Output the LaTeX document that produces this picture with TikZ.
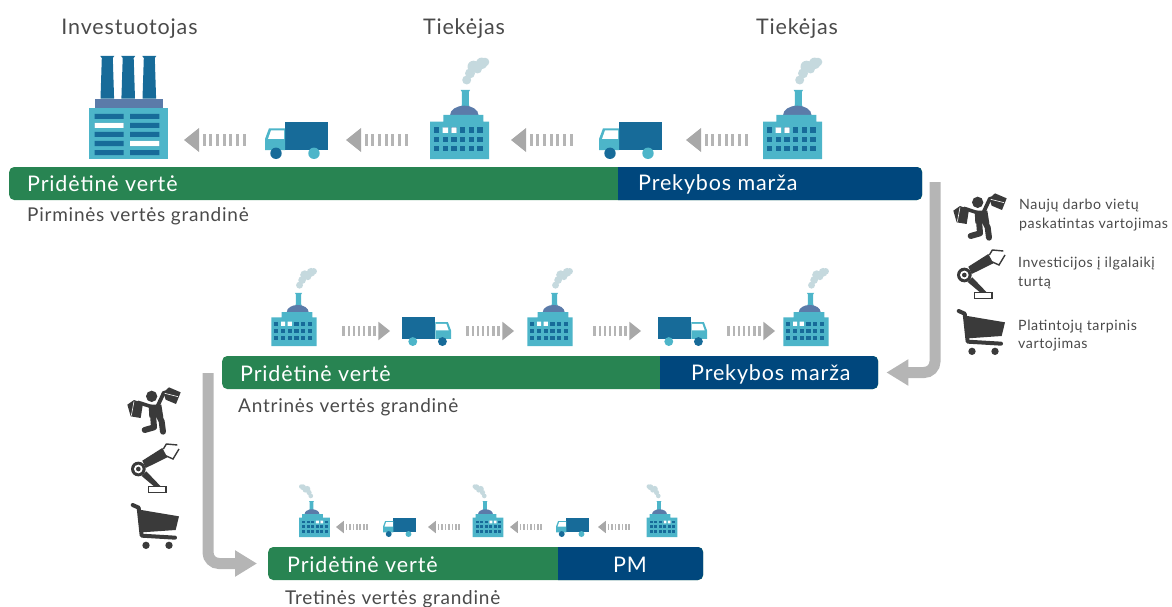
\documentclass[tikz,border=0pt]{standalone}
\usepackage{fontspec}
\setmainfont{Lato}[LetterSpace=4]
\usetikzlibrary{calc}
\usetikzlibrary{arrows.meta}
\definecolor{plantteal}{HTML}{4DB5C9}
\definecolor{plantblue}{HTML}{176B99}
\definecolor{plantdome}{HTML}{5B7BA9}
\definecolor{plantsmoke}{HTML}{C5D9DE}
\definecolor{barneutral}{HTML}{288452}
\definecolor{barnavy}{HTML}{00477D}
\definecolor{flowgrey}{HTML}{B5B5B5}
\definecolor{stripegrey}{HTML}{A8A8A8}
\definecolor{inkgrey}{HTML}{4A4A4A}
\definecolor{icondark}{HTML}{3A3A3A}
\tikzset{
    plant/.pic={
        \fill[plantsmoke] (7.2,-79) circle (4.5) (10.5,-85.6) circle (5) (14,-92.3) circle (6) (22.2,-95.7) circle (5.7) (25.5,-97) circle (4.3) (18,-90) circle (4.5);
        \fill[plantteal] (1.2,-69) -- (10.5,-69) -- (9.3,-67) -- (9.3,-55) -- (11,-48) -- (1,-48) -- (2.4,-55) -- (2.4,-67) -- cycle;
        \fill[plantdome] (-9.4,-44) arc[start angle=180,end angle=360,x radius=14.2,y radius=9.3] -- cycle;
        \fill[plantteal] (-29.5,0) -- (-29.5,-37.3) -- (-16.2,-37.3) -- (-16.2,-44) -- (23.8,-44) -- (23.8,-37.3) -- (29.5,-37.3) -- (29.5,0) -- cycle;
        \foreach \col in {0,1,...,5}
            \foreach \row in {0,1,2}
                \fill[plantblue] ({-25.5+8.67*\col},{-31.7+9.3*\row}) rectangle +(5.33,5.5);
        \fill[white] (-16.8,-31.7) rectangle +(5.33,5.5) (-8.2,-31.7) rectangle +(5.33,5.5);
    },
    truck/.pic={
        \fill[plantblue] (20,-37) rectangle (63,-9);
        \fill[plantteal] (0,-9) -- (0,-20) -- (4,-30.7) -- (20,-30.7) -- (20,-9) -- cycle;
        \fill[white] (3,-20) -- (6,-28.5) -- (19,-28.5) -- (19,-20) -- cycle;
        \fill[plantblue] (11,-5.7) circle (5.7);
        \fill[plantteal] (49,-5.7) circle (5.7);
    },
    stripearrow/.pic={
        \fill[stripegrey] (0,0) -- (15,-12) -- (15,12) -- cycle;
        \foreach \k in {0,1,...,6}
            \fill[flowgrey] ({18.5+6.67*\k},-6) rectangle +(3.3,12);
    },
    spendicons/.pic={
        \begin{scope}[scale=1/3]
            \fill[icondark] (113,97) circle (17);
            \draw[icondark,line width=3.6,line cap=round] (72,115) -- (112,128);
            \draw[icondark,line width=3.8,line cap=round] (150,85) -- (130,128);
            \fill[icondark] (104,122) -- (142,122) -- (148,160) -- (106,160) -- cycle;
            \draw[icondark,line width=6,line cap=round,line join=round] (132,150) -- (143,172) -- (147,203);
            \draw[icondark,line width=6,line cap=round,line join=round] (117,150) -- (120,190) -- (92,198);
            \fill[icondark] (40,122) -- (60,108) -- (87,118) -- (80,162) -- (50,157) -- cycle;
            \draw[white,line width=.6] (60,112) -- (52,155);
            \fill[icondark] (148,85) -- (165,70) -- (200,85) -- (186,120) -- (155,107) -- cycle;
            \draw[white,line width=.6] (152,88) -- (192,98);
            \fill[icondark] (73,315) circle (22);
            \fill[white] (73,315) circle (13);
            \fill[icondark] (73,315) circle (7);
            \fill[icondark] (83,336) -- (97,322) -- (140,367) -- (120,367) -- cycle;
            \fill[icondark] (85,290) -- (145,252) -- (160,280) -- (95,312) -- cycle;
            \draw[icondark,line width=1.4,fill=white] (104,368) rectangle (156,386);
            \draw[icondark,line width=1.4] (148,255) -- (157,240) -- (190,243);
            \draw[icondark,line width=1.4] (155,275) -- (177,285) -- (195,255);
            \draw[icondark,line width=4,line cap=round,line join=round] (56,423) -- (74,431) -- (83,515) -- (183,521);
            \fill[icondark] (76,437) -- (195,457) -- (185,498) -- (84,505) -- cycle;
            \fill[icondark] (96,544) circle (11) (165,544) circle (11);
        \end{scope}
    },
    barneutral/.style={fill=barneutral,rounded corners=5,minimum height=33,inner sep=0,anchor=west},
    bartext/.style={text=white,font=\fontsize{21.5}{21.5}\selectfont,anchor=west,inner sep=0},
    headtext/.style={text=inkgrey,font=\fontsize{21.5}{21.5}\selectfont,inner sep=0},
    chaintext/.style={text=inkgrey,font=\fontsize{19}{19}\selectfont,anchor=west,inner sep=0},
    spendtext/.style={text=inkgrey,font=\fontsize{14.2}{18.5}\selectfont,anchor=west,align=left,inner sep=0},
    bigflow/.style={draw=flowgrey,line width=11,rounded corners=11,-{Triangle[length=22,width=25]}}
}
\begin{document}
\begin{tikzpicture}[x=1pt,y=-1pt]
                \useasboundingbox (0,0) rectangle (1172,607);
                \node[headtext] (headA) at (129.5,28.5) {Investuotojas};
                \node[headtext] (headB) at (464,28.5) {Tiekėjas};
                \node[headtext] (headC) at (797,28.5) {Tiekėjas};
                \foreach \x in {107.3,128.2,149.3}
                    \fill[plantblue] ({\x-7},56) -- ({\x+7},56) -- ({\x+5.5},58) -- ({\x+6.8},98.7) -- ({\x-6.8},98.7) -- ({\x-5.5},58) -- cycle;
                \fill[plantdome] (94.7,98.7) rectangle (163.3,107.7);
                \fill[plantteal] (89.3,107.7) rectangle (168.3,159.3);
                \foreach \y in {114,123,132,141,150}
                    \fill[plantblue] (94.7,\y) rectangle +(29,5) (130,\y) rectangle +(29.3,5);
                \fill[white] (94.7,123) rectangle +(29,5) (130,141) rectangle +(29.3,5);
                \foreach \x in {459.5,792.5}
                    \pic at (\x,159) {plant};
                \foreach \x in {184,346,511,686}
                    \pic at (\x,140) {stripearrow};
                \foreach \x in {265,599}
                    \pic at (\x,159) {truck};
                \foreach \x in {294,550,806}
                    \pic[scale=.77] at (\x,346) {plant};
                \foreach \x in {390,514,641,775}
                    \pic[scale=.77,xscale=-1] at (\x,331) {stripearrow};
                \foreach \x in {451,707}
                    \pic[scale=.78,xscale=-1] at (\x,346) {truck};
                \foreach \x in {314.5,488,662}
                    \pic[scale=.52,xscale=-1] at (\x,537) {plant};
                \foreach \x in {336,428,510,598}
                    \pic[scale=.52] at (\x,527) {stripearrow};
                \foreach \x in {383,556}
                    \pic[scale=.52] at (\x,537) {truck};
                \node[barneutral,minimum width=913] (barA) at (9,183.5) {};
                \node[barneutral,minimum width=656] (barB) at (222,372.5) {};
                \node[barneutral,minimum width=435] (barC) at (268,563.5) {};
                \fill[barnavy] (618,167) [rounded corners=5] -- (922,167) -- (922,200) [sharp corners] -- (618,200) -- cycle;
                \fill[barnavy] (660,356) [rounded corners=5] -- (878,356) -- (878,389) [sharp corners] -- (660,389) -- cycle;
                \fill[barnavy] (558,547) [rounded corners=5] -- (703,547) -- (703,580) [sharp corners] -- (558,580) -- cycle;
                \node[bartext] (addA) at (27,184) {Pridėtinė vertė};
                \node[bartext] (addB) at (240,373.5) {Pridėtinė vertė};
                \node[bartext] (addC) at (287,565) {Pridėtinė vertė};
                \node[bartext] (marginA) at (638,184.5) {Prekybos marža};
                \node[bartext] (marginB) at (691,374.5) {Prekybos marža};
                \node[bartext] (marginC) at (613,565) {PM};
                \node[chaintext] (chainA) at (27,216) {Pirminės vertės grandinė};
                \node[chaintext] (chainB) at (238,407) {Antrinės vertės grandinė};
                \node[chaintext] (chainC) at (285,599) {Tretinės vertės grandinė};
                \coordinate (flowA) at (935,182);
                \coordinate (flowB) at (208,373);
                \draw[bigflow,shorten >=8] (flowA) |- (barB.east);
                \draw[bigflow,shorten >=11] (flowB) |- (barC.west);
                \pic at (940,170) {spendicons};
                \pic at (114,364) {spendicons};
                \node[spendtext] (spendA) at (1019,215) {Naujų darbo vietų\\paskatintas vartojimas};
                \node[spendtext] (spendB) at (1018,273) {Investicijos į ilgalaikį\\turtą};
                \node[spendtext] (spendC) at (1018,335.5) {Platintojų tarpinis\\vartojimas};
            \end{tikzpicture}
\end{document}
